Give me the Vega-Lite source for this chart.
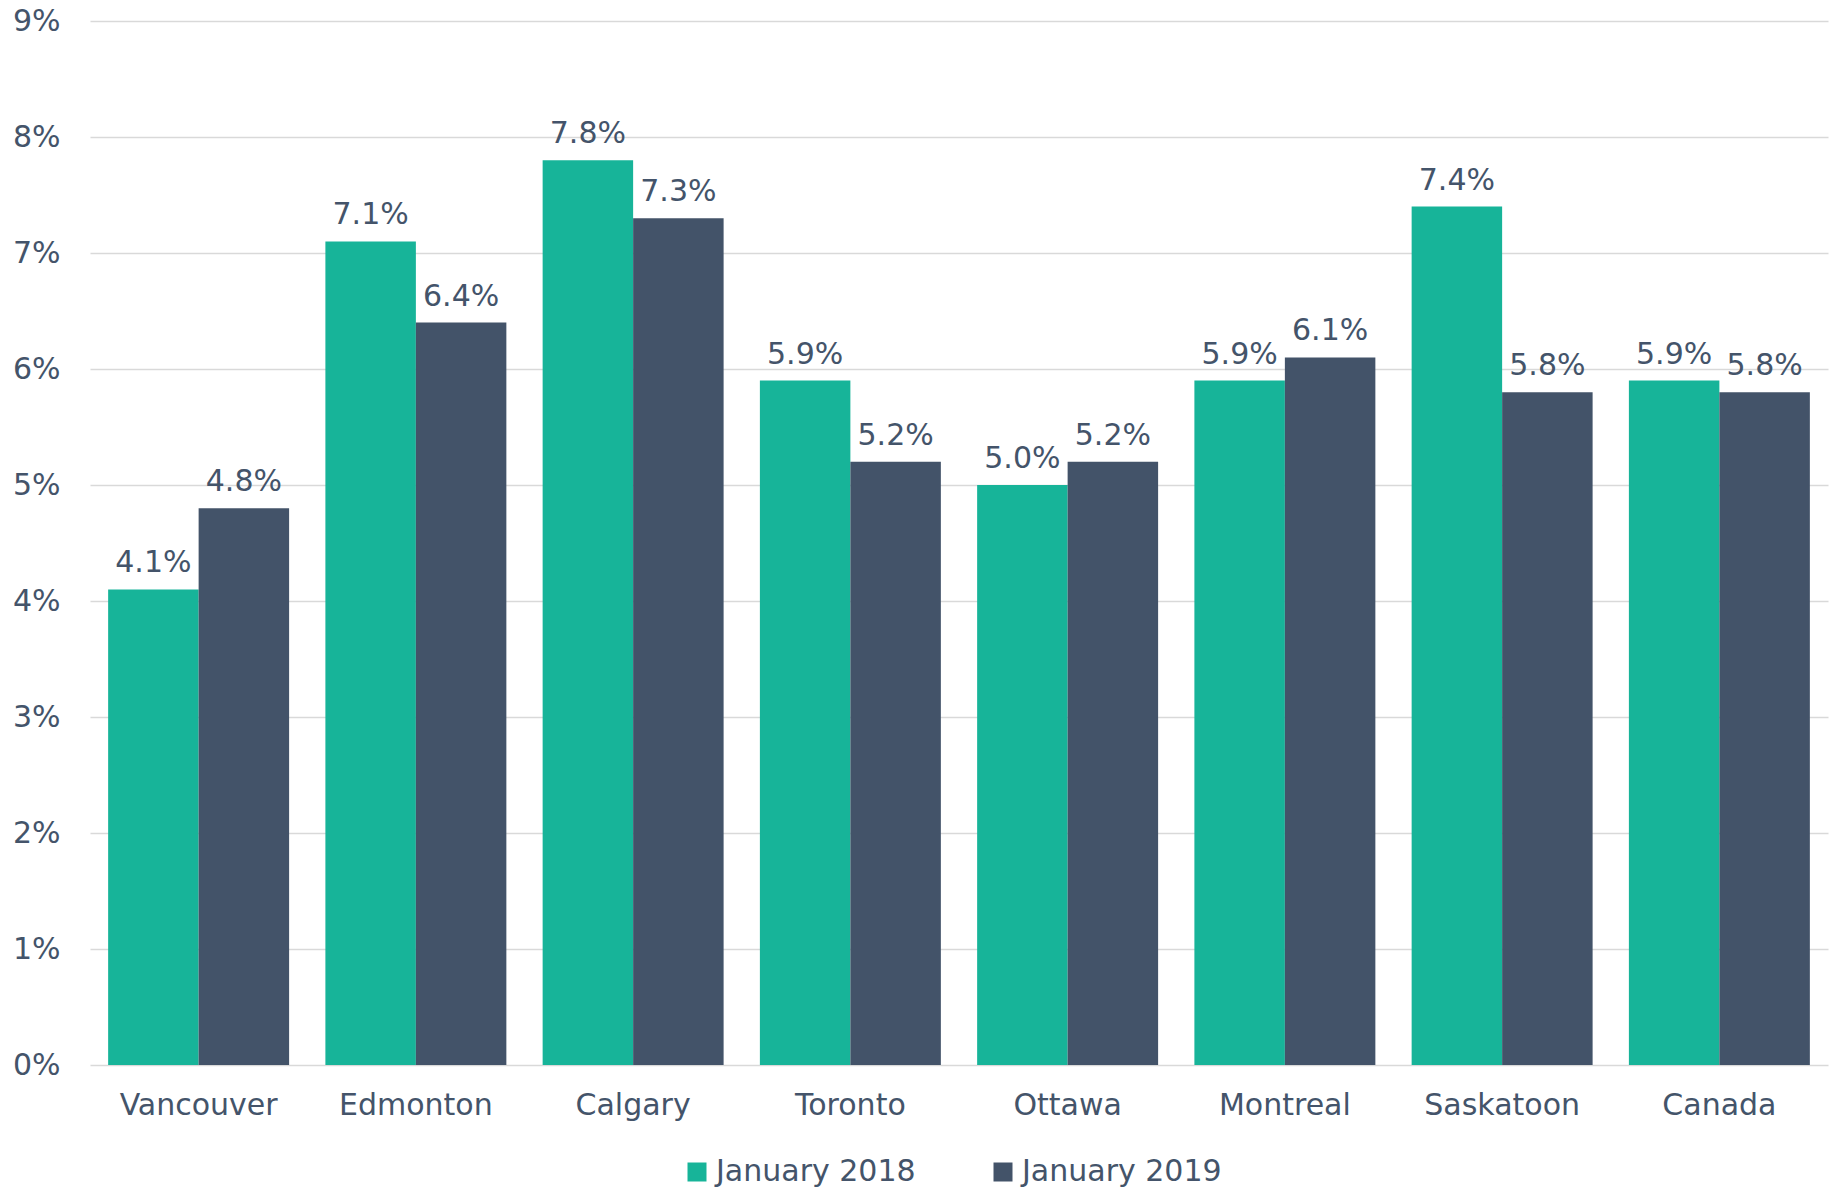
{
  "$schema": "https://vega.github.io/schema/vega-lite/v6.json",
  "autosize": "none",
  "width": 1738,
  "height": 1044,
  "padding": {"left": 90, "top": 21, "right": 8, "bottom": 128},
  "background": "white",
  "config": {
    "view": {"stroke": null},
    "font": "DejaVu Sans",
    "axis": {"labelFont": "DejaVu Sans", "labelColor": "#44546A", "labelFontSize": 30}
  },
  "data": {
    "values": [
      {"city": "Vancouver", "period": "January 2018", "value": 0.041},
      {"city": "Vancouver", "period": "January 2019", "value": 0.048},
      {"city": "Edmonton", "period": "January 2018", "value": 0.071},
      {"city": "Edmonton", "period": "January 2019", "value": 0.064},
      {"city": "Calgary", "period": "January 2018", "value": 0.078},
      {"city": "Calgary", "period": "January 2019", "value": 0.073},
      {"city": "Toronto", "period": "January 2018", "value": 0.059},
      {"city": "Toronto", "period": "January 2019", "value": 0.052},
      {"city": "Ottawa", "period": "January 2018", "value": 0.050},
      {"city": "Ottawa", "period": "January 2019", "value": 0.052},
      {"city": "Montreal", "period": "January 2018", "value": 0.059},
      {"city": "Montreal", "period": "January 2019", "value": 0.061},
      {"city": "Saskatoon", "period": "January 2018", "value": 0.074},
      {"city": "Saskatoon", "period": "January 2019", "value": 0.058},
      {"city": "Canada", "period": "January 2018", "value": 0.059},
      {"city": "Canada", "period": "January 2019", "value": 0.058}
    ]
  },
  "encoding": {
    "x": {
      "field": "city", "type": "nominal", "sort": null,
      "scale": {"paddingInner": 0.167, "paddingOuter": 0.0835},
      "axis": {"title": null, "labelAngle": 0, "domain": false, "ticks": false, "labelPadding": 25}
    },
    "xOffset": {"field": "period", "type": "nominal", "scale": {"paddingInner": 0, "paddingOuter": 0}},
    "y": {
      "field": "value", "type": "quantitative",
      "scale": {"domain": [0, 0.09], "nice": false},
      "axis": {
        "title": null, "format": ".0%", "values": [0, 0.01, 0.02, 0.03, 0.04, 0.05, 0.06, 0.07, 0.08, 0.09],
        "domain": false, "ticks": false, "labelPadding": 30,
        "gridColor": "#D9D9D9", "gridWidth": 1.5
      }
    }
  },
  "layer": [
    {
      "mark": {"type": "bar"},
      "encoding": {
        "color": {
          "field": "period", "type": "nominal",
          "scale": {"domain": ["January 2018", "January 2019"], "range": ["#17B499", "#435369"]},
          "legend": {
            "title": null, "orient": "none", "direction": "horizontal",
            "legendX": 592, "legendY": 1136,
            "symbolType": "square", "symbolSize": 361, "symbolStrokeWidth": 0,
            "labelFontSize": 30, "labelColor": "#44546A", "labelFont": "DejaVu Sans",
            "labelOffset": 4, "columnPadding": 72, "labelLimit": 400
          }
        }
      }
    },
    {
      "mark": {"type": "text", "baseline": "alphabetic", "dy": -17, "fontSize": 30, "color": "#44546A", "font": "DejaVu Sans"},
      "encoding": {
        "text": {"field": "value", "type": "quantitative", "format": ".1%"}
      }
    }
  ]
}
